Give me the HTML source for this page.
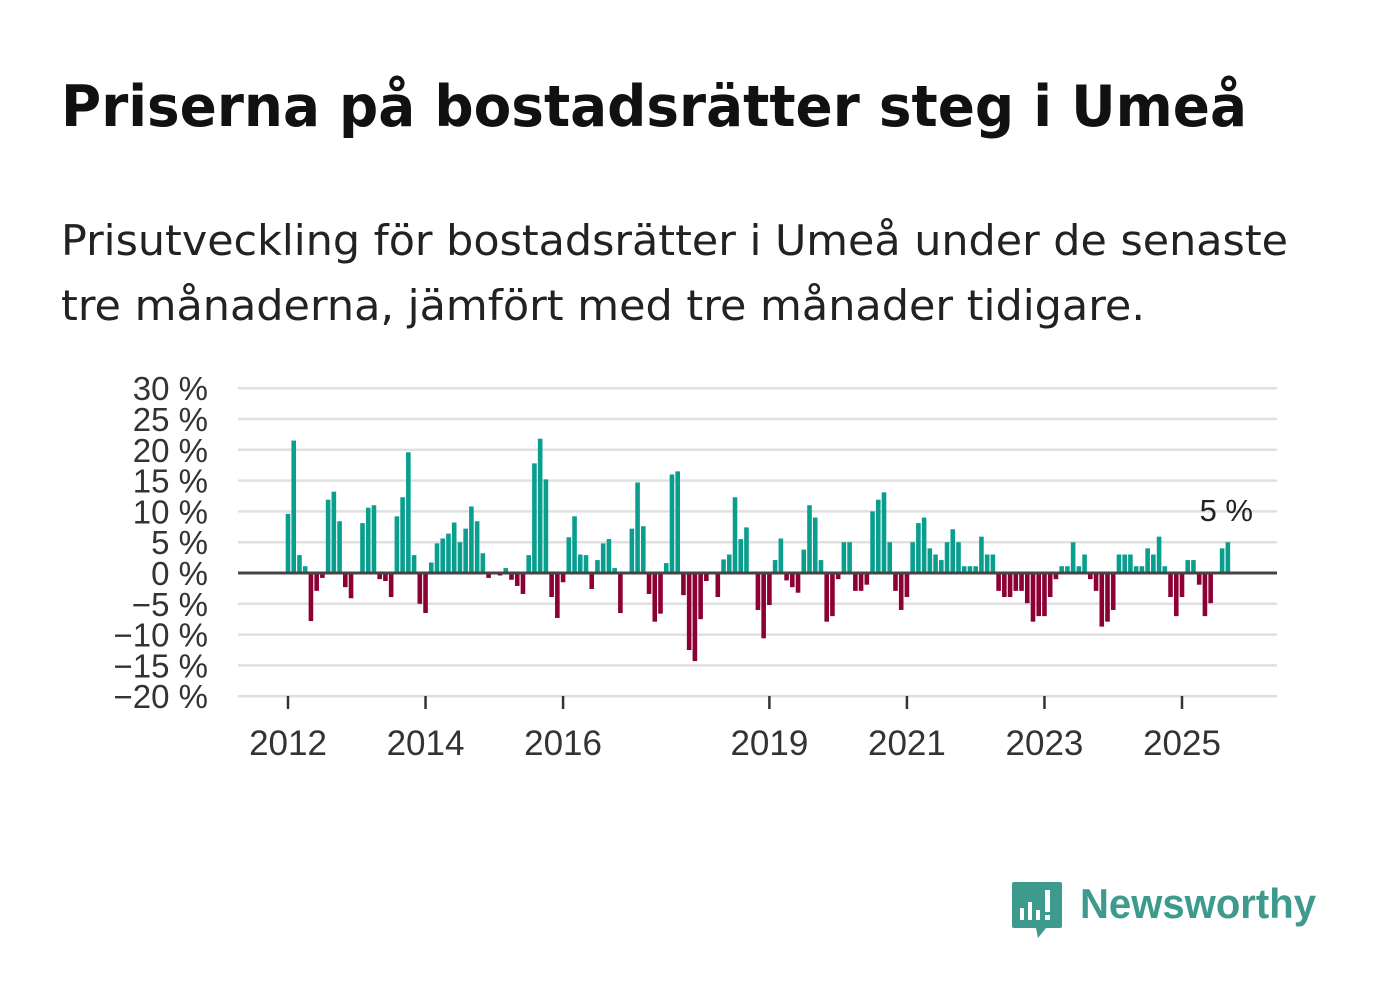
<!DOCTYPE html>
<html><head><meta charset="utf-8"><style>
body{margin:0;background:#fff;width:1382px;height:999px;overflow:hidden;font-family:"Liberation Sans",sans-serif}
</style></head><body>
<svg width="1382" height="999" xmlns="http://www.w3.org/2000/svg">
<text x="61" y="126" font-size="57" font-weight="bold" fill="#111" font-family="DejaVu Sans, sans-serif" textLength="1186" lengthAdjust="spacingAndGlyphs">Priserna på bostadsrätter steg i Umeå</text>
<text x="61" y="255" font-size="42" fill="#222" font-family="DejaVu Sans, sans-serif" textLength="1227" lengthAdjust="spacingAndGlyphs">Prisutveckling för bostadsrätter i Umeå under de senaste</text>
<text x="61" y="320" font-size="42" fill="#222" font-family="DejaVu Sans, sans-serif" textLength="1084" lengthAdjust="spacingAndGlyphs">tre månaderna, jämfört med tre månader tidigare.</text>
<g id="grid"></g>
<g id="yticks"></g>
<g id="bars"></g>
<line x1="238" x2="1277" y1="573" y2="573" stroke="#444" stroke-width="3"/>
<g id="xticks"></g>
<text x="1253" y="521" font-size="31" fill="#222" text-anchor="end">5 %</text>
<g>
<path d="M1014 882 h46 a2 2 0 0 1 2 2 v42 a2 2 0 0 1 -2 2 h-14 l-8 10 l-2 -10 h-22 a2 2 0 0 1 -2 -2 v-42 a2 2 0 0 1 2 -2z" fill="#3d9a8c"/>
<rect x="1020" y="908" width="4" height="12" fill="#fff"/><rect x="1028" y="902" width="4" height="18" fill="#fff"/><rect x="1036" y="910" width="4" height="10" fill="#fff"/><rect x="1045" y="890" width="5" height="22" fill="#fff"/><rect x="1045" y="915" width="5" height="5" fill="#fff"/>
<text x="1080" y="918" font-size="42" font-weight="bold" fill="#3d9a8c" textLength="236" lengthAdjust="spacingAndGlyphs">Newsworthy</text>
</g>
</svg>
<script>
const values=[9.6,21.5,2.9,1.1,-7.8,-2.9,-0.8,11.9,13.2,8.4,-2.3,-4.1,0,8.1,10.6,11,-1,-1.3,-3.9,9.2,12.3,19.6,2.9,-5,-6.5,1.7,4.8,5.6,6.4,8.2,5,7.2,10.8,8.4,3.2,-0.8,0,-0.4,0.8,-1.1,-2.1,-3.4,2.9,17.8,21.8,15.2,-3.9,-7.3,-1.5,5.8,9.2,3,2.9,-2.6,2.1,4.8,5.5,0.8,-6.5,0,7.2,14.7,7.6,-3.4,-7.9,-6.6,1.6,16,16.5,-3.6,-12.5,-14.3,-7.5,-1.3,0,-3.9,2.2,3,12.3,5.5,7.4,0,-6,-10.6,-5.2,2.1,5.6,-1.2,-2.3,-3.2,3.8,11,9,2.1,-7.9,-7,-1,5,5,-2.9,-2.9,-1.9,10,11.9,13.1,5,-2.9,-6,-3.9,5,8.1,9,4,3,2.1,5,7.1,5,1.1,1.1,1.1,5.9,3,3,-2.9,-3.9,-3.9,-2.9,-2.9,-4.9,-7.9,-7,-7,-3.9,-1,1.1,1.1,5,1.1,3,-1,-2.9,-8.7,-7.9,-6,3,3,3,1.1,1.1,4,3,5.9,1.1,-3.9,-7,-3.9,2.1,2.1,-1.9,-7,-4.9,0,4,5];
const yTicks=[30,25,20,15,10,5,0,-5,-10,-15,-20];
const yTickLabels=["30 %","25 %","20 %","15 %","10 %","5 %","0 %","\u22125 %","\u221210 %","\u221215 %","\u221220 %"];
const xYears=[2012,2014,2016,2019,2021,2023,2025];
const NS="http://www.w3.org/2000/svg";
const y=v=>573-v*6.16;
const xm=i=>288+i*(894/156);
const x=yr=>xm((yr-2012)*12);
function mk(t,a,p){const e=document.createElementNS(NS,t);for(const k in a)e.setAttribute(k,a[k]);p.appendChild(e);return e;}
const g=document.getElementById('grid'),yt=document.getElementById('yticks'),b=document.getElementById('bars'),xt=document.getElementById('xticks');
yTicks.forEach((v,k)=>{
 const l=mk('line',{x1:238,x2:1277,y1:y(v),y2:y(v),stroke:'#e0e0e0','stroke-width':2.5},g);
 
 
 const t=mk('text',{x:208,y:y(v)+12,'font-size':33,fill:'#333','text-anchor':'end'},yt);
 t.textContent=yTickLabels[k];
 
 
});
values.forEach((v,i)=>{
 if(!v)return;
 const r=mk('rect',{x:xm(i)-2.3,width:4.6,y:Math.min(y(v),573),height:Math.abs(y(v)-573),fill:v>0?'#0a9e8f':'#8c0033'},b);
 
 
});
const al=mk('line',{x1:238,x2:1277,y1:696,y2:696,stroke:'#ddd','stroke-width':1.5},xt);


xYears.forEach(yr=>{
 const l=mk('line',{x1:x(yr),x2:x(yr),y1:696,y2:709,stroke:'#333','stroke-width':2.5},xt);
 
 
 const t=mk('text',{x:x(yr),y:755,'font-size':35,fill:'#333','text-anchor':'middle'},xt);
 t.textContent=yr;
 
 
});
</script>
</body></html>
